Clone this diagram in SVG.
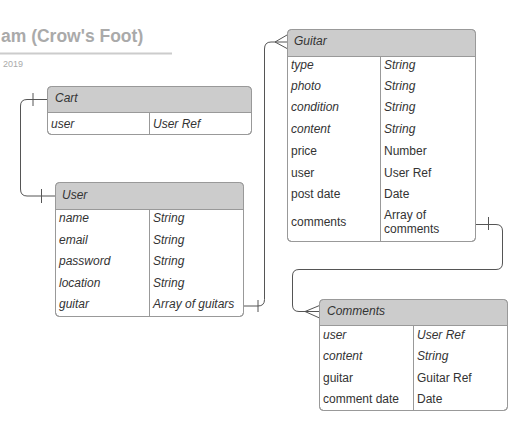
<svg xmlns="http://www.w3.org/2000/svg" width="518" height="423" viewBox="0 0 518 423">
<style>
.box{fill:#fff;stroke:#999;stroke-width:1}
.hdr{fill:#ccc;stroke:none}
.div{stroke:#999;stroke-width:1;fill:none}
.t{font-family:"Liberation Sans",Arial,sans-serif;font-size:12px;fill:#333}
.i{font-style:italic}
.con{fill:none;stroke:#555;stroke-width:1}
</style>
<rect width="518" height="423" fill="#fff"/>
<g id="title">
<text x="1" y="42" font-family="'Liberation Sans',Arial,sans-serif" font-size="17.5" font-weight="bold" fill="#aaa">am (Crow's Foot)</text>
<line x1="0" y1="53.5" x2="172" y2="53.5" stroke="#ccc" stroke-width="2"/>
<text x="3" y="67" font-family="'Liberation Sans',Arial,sans-serif" font-size="9" fill="#aaa">2019</text>
</g>
<g id="connectors">
<path class="con" d="M47.5,99.5 H27 Q20.5,99.5 20.5,106 V189 Q20.5,196 27,196 H55"/>
<line class="con" x1="33" y1="93" x2="33" y2="106"/>
<line class="con" x1="41.5" y1="189" x2="41.5" y2="203"/>
<path class="con" d="M243.5,306 H258 Q264.5,306 264.5,299.5 V49 Q264.5,42 271,42 H287"/>
<line class="con" x1="258" y1="300" x2="258" y2="312"/>
<path class="con" d="M287,35 L275,42 L287,48.5"/>
<path class="con" d="M475,224.5 H496 Q502.5,224.5 502.5,231 V263 Q502.5,269.5 496,269.5 H299 Q292.5,269.5 292.5,276 V305 Q292.5,311.5 299,311.5 H319.5"/>
<line class="con" x1="488.5" y1="217" x2="488.5" y2="230"/>
<path class="con" d="M319.5,305.5 L305,311.5 L319.5,318"/>
</g>
<g id="cart">
<rect class="box" x="47.5" y="86.5" width="204" height="48" rx="4"/>
<path class="hdr" d="M51.5,87 H247.5 Q251,87 251,90.5 V112.5 H48 V90.5 Q48,87 51.5,87 Z"/>
<rect x="47.5" y="86.5" width="204" height="48" rx="4" fill="none" stroke="#999"/>
<line class="div" x1="47.5" y1="112.5" x2="251.5" y2="112.5"/>
<line class="div" x1="149.5" y1="112.5" x2="149.5" y2="134.5"/>
<text class="t i" x="55" y="102">Cart</text>
<text class="t i" x="51" y="128">user</text>
<text class="t i" x="153" y="128">User Ref</text>
</g>
<g id="user">
<rect class="box" x="55.5" y="182.5" width="188" height="134" rx="4"/>
<path class="hdr" d="M59.5,183 H239.5 Q243,183 243,186.5 V209.5 H56 V186.5 Q56,183 59.5,183 Z"/>
<rect x="55.5" y="182.5" width="188" height="134" rx="4" fill="none" stroke="#999"/>
<line class="div" x1="55.5" y1="209.5" x2="243.5" y2="209.5"/>
<line class="div" x1="149.5" y1="209.5" x2="149.5" y2="316.5"/>
<text class="t i" x="62" y="199">User</text>
<text class="t i" x="59" y="222">name</text>
<text class="t i" x="153" y="222">String</text>
<text class="t i" x="59" y="244">email</text>
<text class="t i" x="153" y="244">String</text>
<text class="t i" x="59" y="265">password</text>
<text class="t i" x="153" y="265">String</text>
<text class="t i" x="59" y="287">location</text>
<text class="t i" x="153" y="287">String</text>
<text class="t i" x="59" y="308">guitar</text>
<text class="t i" x="153" y="308">Array of guitars</text>
</g>
<g id="guitar">
<rect class="box" x="287.5" y="29.5" width="188" height="212" rx="4"/>
<path class="hdr" d="M291.5,30 H471.5 Q475,30 475,33.5 V56.5 H288 V33.5 Q288,30 291.5,30 Z"/>
<rect x="287.5" y="29.5" width="188" height="212" rx="4" fill="none" stroke="#999"/>
<line class="div" x1="287.5" y1="56.5" x2="475.5" y2="56.5"/>
<line class="div" x1="380.5" y1="56.5" x2="380.5" y2="241.5"/>
<text class="t i" x="294" y="45">Guitar</text>
<text class="t i" x="291" y="69">type</text>
<text class="t i" x="384" y="69">String</text>
<text class="t i" x="291" y="90">photo</text>
<text class="t i" x="384" y="90">String</text>
<text class="t i" x="291" y="111">condition</text>
<text class="t i" x="384" y="111">String</text>
<text class="t i" x="291" y="133">content</text>
<text class="t i" x="384" y="133">String</text>
<text class="t" x="291" y="155">price</text>
<text class="t" x="384" y="155">Number</text>
<text class="t" x="291" y="177">user</text>
<text class="t" x="384" y="177">User Ref</text>
<text class="t" x="291" y="198">post date</text>
<text class="t" x="384" y="198">Date</text>
<text class="t" x="291" y="226">comments</text>
<text class="t" x="384" y="219">Array of</text>
<text class="t" x="384" y="233">comments</text>
</g>
<g id="comments">
<rect class="box" x="319.5" y="299.5" width="188" height="111" rx="4"/>
<path class="hdr" d="M323.5,300 H503.5 Q507,300 507,303.5 V325.5 H320 V303.5 Q320,300 323.5,300 Z"/>
<rect x="319.5" y="299.5" width="188" height="111" rx="4" fill="none" stroke="#999"/>
<line class="div" x1="319.5" y1="325.5" x2="507.5" y2="325.5"/>
<line class="div" x1="413.5" y1="325.5" x2="413.5" y2="410.5"/>
<text class="t i" x="327" y="315">Comments</text>
<text class="t i" x="323" y="339">user</text>
<text class="t i" x="417" y="339">User Ref</text>
<text class="t i" x="323" y="360">content</text>
<text class="t i" x="417" y="360">String</text>
<text class="t" x="323" y="382">guitar</text>
<text class="t" x="417" y="382">Guitar Ref</text>
<text class="t" x="323" y="403">comment date</text>
<text class="t" x="417" y="403">Date</text>
</g>
</svg>
